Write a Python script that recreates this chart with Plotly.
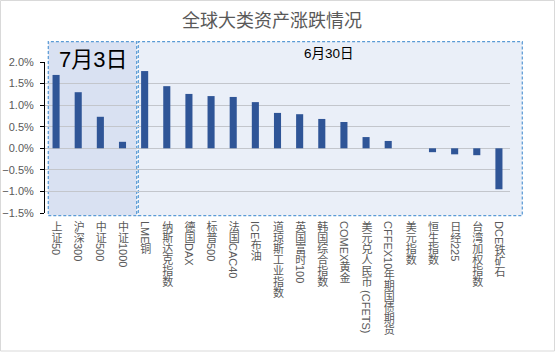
import plotly.graph_objects as go

# ---------------- data ----------------
title_text = "全球大类资产涨跌情况"
categories = ["上证50", "沪深300", "中证500", "中证1000", "LME铜", "纳斯达克指数", "德国DAX",
              "标普500", "法国CAC40", "ICE布油", "道琼斯工业指数", "英国富时100", "韩国综合指数",
              "COMEX黄金", "美元兑人民币 (CFETS)", "CFFEX10年期国债期货", "美元指数", "恒生指数",
              "日经225", "台湾加权指数", "DCE铁矿石"]
changes_pct = [1.70, 1.30, 0.73, 0.15, 1.79, 1.44, 1.26, 1.21, 1.19, 1.07, 0.82, 0.79, 0.68,
               0.61, 0.26, 0.17, 0.00, -0.09, -0.14, -0.16, -0.95]
y_tick_values = [-0.015, -0.010, -0.005, 0.0, 0.005, 0.010, 0.015, 0.020]
group_labels = ["7月3日", "6月30日"]

# ---------------- layout geometry ----------------
W, H = 556, 352
L, R, T, B = 45, 46, 62, 139
PW, PH = W - L - R, H - T - B


def px_x(px):
    return (px - L) / PW


def px_y(py):
    return (H - B - py) / PH


values = [v / 100 for v in changes_pct]

fig = go.Figure(go.Bar(
    x=categories, y=values, marker=dict(color="#2f5597", line=dict(width=0)),
    hoverinfo="x+y",
))

box_line = dict(color="#5b9bd5", width=1.25, dash="3px,2px")
shapes = [
    # outer chart border
    dict(type="rect", xref="paper", yref="paper", x0=px_x(0.5), x1=px_x(554.5),
         y0=px_y(351), y1=px_y(0.5), line=dict(color="#d9d9d9", width=1), layer="below"),
    dict(type="rect", xref="paper", yref="paper", x0=px_x(48.3), x1=px_x(136.7),
         y0=px_y(215.5), y1=px_y(41.7), fillcolor="#d9e1f2", line=box_line, layer="below"),
    dict(type="rect", xref="paper", yref="paper", x0=px_x(138.3), x1=px_x(522.3),
         y0=px_y(215.5), y1=px_y(41.7), fillcolor="#eaeff8", line=box_line, layer="below"),
]

annotations = [
    dict(text=group_labels[0], xref="paper", yref="paper", x=px_x(93), y=px_y(59.5),
         xanchor="center", yanchor="middle",
         showarrow=False, font=dict(size=22, color="#000000",
                                    family="Liberation Sans, Noto Sans CJK SC")),
    dict(text=group_labels[1], xref="paper", yref="paper", x=px_x(328.5), y=px_y(54),
         xanchor="center", yanchor="middle",
         showarrow=False, font=dict(size=13.5, color="#000000",
                                    family="Liberation Sans, Noto Sans CJK SC")),
]

fig.update_layout(
    width=W, height=H,
    margin=dict(l=L, r=R, t=T, b=B, pad=0),
    paper_bgcolor="#ffffff", plot_bgcolor="rgba(0,0,0,0)",
    showlegend=False, bargap=0.68,
    title=dict(text=title_text, x=px_x(272), xref="paper", xanchor="center",
               y=1 - 21 / H, yref="container", yanchor="middle",
               font=dict(size=18, color="#595959", family="Noto Sans CJK SC")),
    font=dict(family="Liberation Sans, Noto Sans CJK SC", size=11, color="#595959"),
    shapes=shapes, annotations=annotations,
    xaxis=dict(tickangle=0, showgrid=False, showline=False, ticks="", automargin=False,
               tickfont=dict(size=11, color="#595959",
                             family="Liberation Sans, Noto Sans CJK SC")),
    yaxis=dict(range=[-0.015, 0.02], tickvals=y_tick_values, tickformat=".1%",
               showgrid=True, gridcolor="#c3c6cc", gridwidth=1, zeroline=False,
               showline=True, linecolor="#000000", linewidth=1,
               ticks="outside", ticklen=4, tickcolor="#000000", ticklabelstandoff=4,
               automargin=False,
               tickfont=dict(size=11, color="#595959", family="Liberation Sans")),
)

post = """
var gd = document.getElementById('{plot_id}');
function vfix(){
  var sz = gd._fullLayout._size;
  var top = sz.t + sz.h + 8;
  gd.querySelectorAll('.xtick text').forEach(function(t){
    t.style.writingMode = 'vertical-rl';
    t.setAttribute('text-anchor', 'start');
    t.setAttribute('y', top);
    t.removeAttribute('dy');
  });
}
vfix();
gd.on('plotly_afterplot', vfix);
"""

fig.write_html("out.html", post_script=post)
